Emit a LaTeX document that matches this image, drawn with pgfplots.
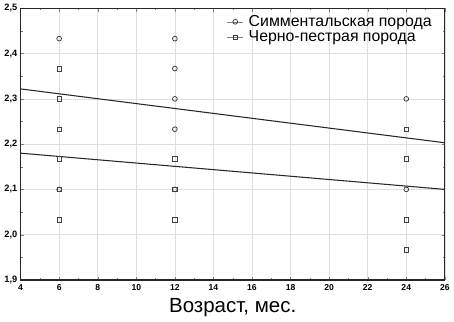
\documentclass[border=0pt]{standalone}
\usepackage{fontspec}
\setmainfont{Liberation Sans}
\usepackage{pgfplots}
\pgfplotsset{compat=1.18}
\begin{document}
\begin{tikzpicture}
\begin{axis}[
  scale only axis,
  width=321pt, height=205.5pt,
  xmin=4, xmax=26, ymin=1.9, ymax=2.5,
  xtick={4,6,...,26},
  ytick={1.9,2.0,...,2.5},
  minor x tick num=1,
  minor y tick num=1,
  tick align=inside,
  major tick length=2.5pt,
  minor tick length=1.5pt,
  axis line style={line width=1pt, black!85},
  grid=major,
  major grid style={gray!25, line width=0.4pt},
  /pgf/number format/assume math mode=true,
  /pgf/number format/use comma,
  yticklabel style={/pgf/number format/fixed, /pgf/number format/precision=1, /pgf/number format/fixed zerofill, font=\fontsize{7}{8}\selectfont\bfseries, xshift=1pt},
  xticklabel style={font=\fontsize{6.5}{8}\selectfont\bfseries},
  xlabel={Возраст, мес.},
  xlabel style={font=\fontsize{15.5}{17}\selectfont, yshift=1pt},
  legend style={draw=none, fill=white, fill opacity=0, text opacity=1, at={(rel axis cs:0.483,0.99)}, anchor=north west, font=\fontsize{12}{13}\selectfont, inner sep=1pt, row sep=-2pt, legend cell align=left, nodes={inner xsep=4pt}},
  legend image code/.code={\draw[gray, line width=0.4pt] (0cm,0cm) -- (0.42cm,0cm); \draw[#1] plot coordinates {(0.21cm,0cm)};},
]
\addplot[only marks, mark=o, mark size=1.8pt, black!80, line width=0.55pt] coordinates {
(6,2.433) (6,2.100)
(12,2.433) (12,2.367) (12,2.300) (12,2.233) (12,2.100)
(24,2.300) (24,2.100)
};
\addlegendentry{Симментальская порода}
\addplot[only marks, mark=square, mark size=1.75pt, black!75, line width=0.5pt] coordinates {
(6,2.367) (6,2.300) (6,2.233) (6,2.167) (6,2.100) (6,2.033)
(12,2.167) (12,2.100) (12,2.033)
(24,2.233) (24,2.167) (24,2.033) (24,1.967)
};
\addlegendentry{Черно-пестрая порода}
\addplot[black!85, line width=0.8pt, forget plot] coordinates {(4,2.322) (26,2.203)};
\addplot[black!85, line width=0.8pt, forget plot] coordinates {(4,2.180) (26,2.100)};
\end{axis}
\end{tikzpicture}
\end{document}
